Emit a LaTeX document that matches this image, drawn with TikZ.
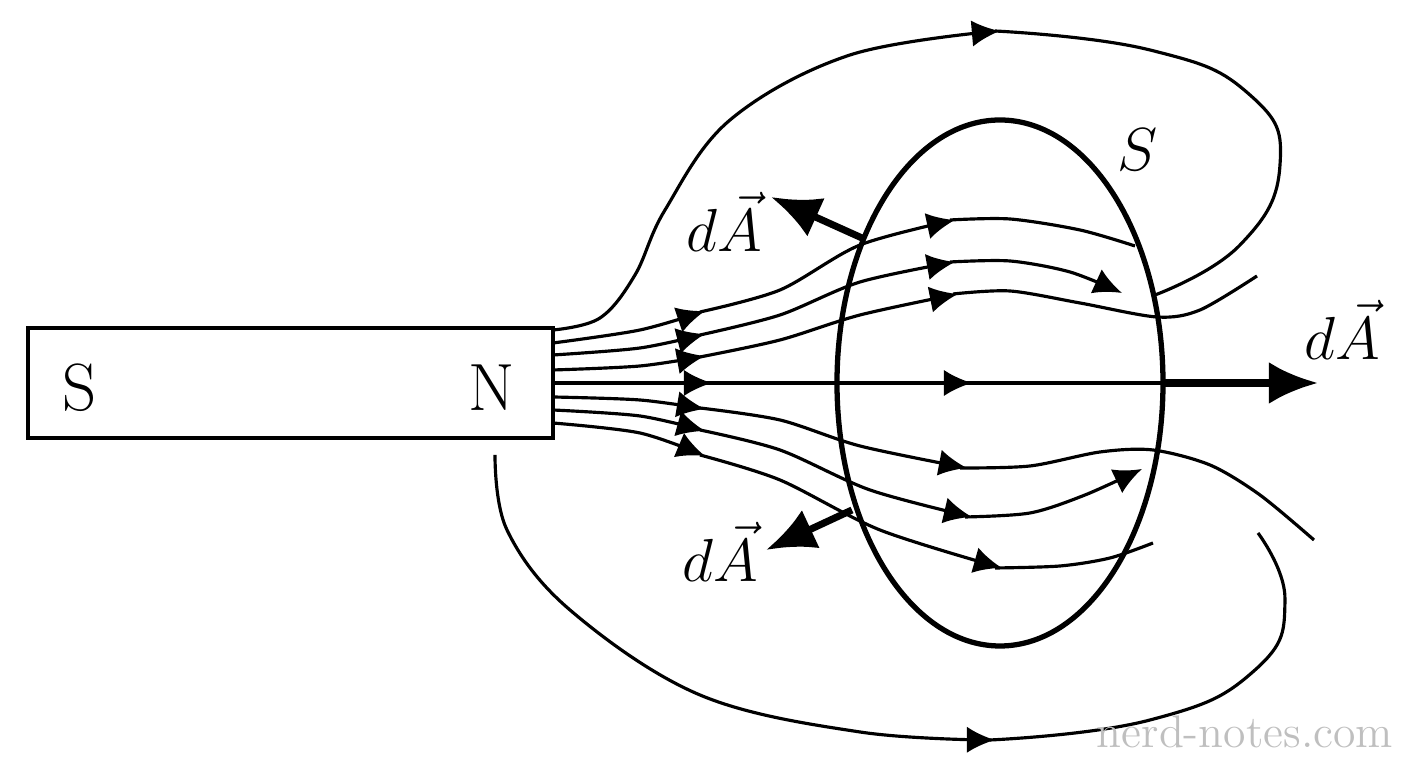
\documentclass[tikz,border=0pt]{standalone}
\usepackage{amsmath}
\usetikzlibrary{arrows.meta}
\tikzset{field/.style = {line width=0.9pt},
         fielda/.style = {line width=0.9pt, -{Latex[length=8pt,width=7.5pt]}},
         normal/.style = {line width=2pt, -{Latex[length=14pt,width=12pt]}},
         magnet/.style = {draw, line width=1.3pt, minimum width=5.25cm, minimum height=1.1cm, inner sep=0pt},
         lbl/.style = {font=\fontsize{19}{22}\selectfont}}

\begin{document}
\begin{tikzpicture}[x=0.01cm,y=-0.01cm]
        \useasboundingbox (0,0) rectangle (1408,768);

        % magnet and surface
        \node[magnet] (bar) at (290.5,383) {};
        \node[lbl] at (80,388) {S};
        \node[lbl] at (492,388) {N};
        \draw[line width=1.5pt] (1000,383) ellipse (163 and 263);
        \node[lbl] at (1138,150) {$S$};

        % field lines, upper half
        \draw[fielda] plot[smooth, tension=0.6] coordinates {(553,330) (600,318) (635,275) (665,210) (730,120) (850,55) (1000,31)};
        \draw[field] plot[smooth, tension=0.8] coordinates {(995,31) (1150,50) (1250,95) (1280,165) (1240,245) (1155,295)};
        \draw[fielda] plot[smooth] coordinates {(553,343) (640,330) (705,311)};
        \draw[fielda] plot[smooth] coordinates {(700,312) (780,290) (860,245) (955,220)};
        \draw[field] plot[smooth] coordinates {(950,220) (1010,219) (1080,230) (1135,246)};
        \draw[fielda] plot[smooth] coordinates {(553,355) (640,348) (705,334)};
        \draw[fielda] plot[smooth] coordinates {(700,335) (780,315) (860,282) (955,262)};
        \draw[fielda] plot[smooth] coordinates {(950,262) (1010,261) (1070,272) (1122,293)};
        \draw[fielda] plot[smooth] coordinates {(553,370) (640,366) (705,356)};
        \draw[fielda] plot[smooth] coordinates {(700,357) (780,340) (860,315) (958,294)};
        \draw[field] plot[smooth] coordinates {(953,294) (1010,291) (1080,303) (1157,317) (1200,310) (1257,276)};

        % field lines, axis
        \draw[fielda] (553,383) -- (712,383);
        \draw[fielda] (705,383) -- (972,383);
        \draw[field] (965,383) -- (1163,383);
        \draw[normal] (1163,383) -- (1318,383);

        % field lines, lower half
        \draw[fielda] plot[smooth] coordinates {(553,397) (640,400) (705,409)};
        \draw[fielda] plot[smooth] coordinates {(700,408) (780,420) (860,446) (967,468)};
        \draw[field] plot[smooth] coordinates {(960,468) (1030,466) (1100,452) (1153,450) (1210,465) (1260,495) (1314,540)};
        \draw[fielda] plot[smooth] coordinates {(553,410) (640,416) (705,431)};
        \draw[fielda] plot[smooth] coordinates {(700,430) (780,450) (870,490) (972,517)};
        \draw[fielda] plot[smooth] coordinates {(965,517) (1030,513) (1085,495) (1142,469)};
        \draw[fielda] plot[smooth] coordinates {(553,423) (640,433) (705,456)};
        \draw[fielda] plot[smooth] coordinates {(700,455) (780,480) (880,530) (1002,568)};
        \draw[field] plot[smooth] coordinates {(995,568) (1060,566) (1110,558) (1153,543)};
        \draw[fielda] plot[smooth, tension=0.6] coordinates {(495,455) (507,530) (570,610) (700,695) (860,732) (995,740)};
        \draw[field] plot[smooth, tension=0.8] coordinates {(990,740) (1150,720) (1255,670) (1285,600) (1258,533)};

        % area vectors
        \draw[normal] (862,238) -- (771,197);
        \node[lbl] at (724,222) {$d\vec{A}$};
        \draw[normal] (852,510) -- (766,550);
        \node[lbl] at (720,552) {$d\vec{A}$};
        \node[lbl] at (1342,330) {$d\vec{A}$};

        \node[text=black!25, font=\fontsize{13}{15}\selectfont] at (1245,732) {nerd-notes.com};
\end{tikzpicture}
\end{document}
